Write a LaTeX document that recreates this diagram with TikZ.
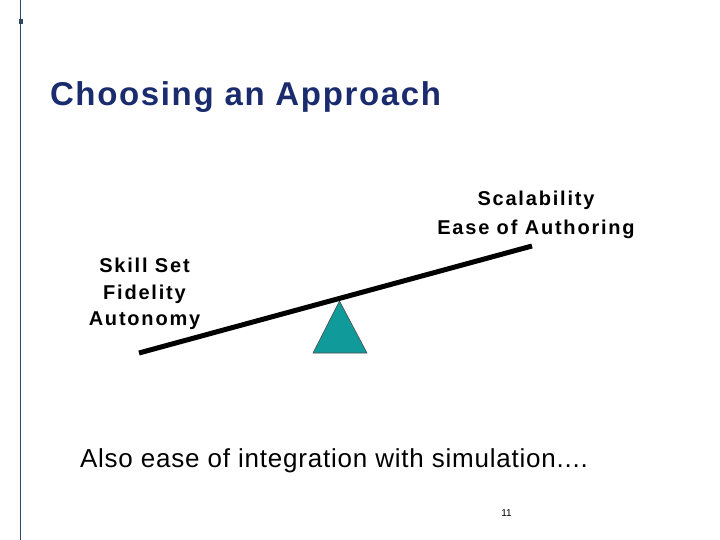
\documentclass[tikz,border=0pt]{standalone}
\usepackage{fontspec}
\setmainfont{Liberation Sans}
\newfontfamily\titlefont[LetterSpace=5]{Liberation Sans}
\newfontfamily\labelfont[LetterSpace=9]{Liberation Sans}
\newfontfamily\notefont[LetterSpace=3]{Liberation Sans}
\definecolor{titleblue}{RGB}{26,43,110}
\definecolor{pivotteal}{RGB}{16,154,154}
\definecolor{rulegray}{RGB}{47,72,96}
\begin{document}
\begin{tikzpicture}[x=1pt,y=-1pt,every node/.style={inner sep=0pt,outer sep=0pt,anchor=base},
  lbl/.style={font=\fontsize{20}{24}\labelfont\bfseries}]
\useasboundingbox (0,0) rectangle (720,540);
\draw[rulegray,line width=1.5pt] (20.5,0) -- (20.5,540);
\fill[rulegray] (18.5,19.5) rectangle (22.5,24);
\node[font=\fontsize{33}{40}\titlefont\bfseries,text=titleblue,anchor=base west] (title) at (50,105.5) {Choosing an Approach};
\node[lbl] (scal) at (536,205.5) {Scalability};
\node[lbl] (ease) at (536,234) {Ease of Authoring};
\node[lbl] (skill) at (144.5,272.5) {Skill Set};
\node[lbl] (fidel) at (144.5,299) {Fidelity};
\node[lbl] (auton) at (144.5,325) {Autonomy};
\coordinate (beamL) at (139,353);
\coordinate (beamR) at (532,246);
\filldraw[fill=pivotteal,draw=black!70,line width=0.6pt] (339.5,301) -- (313,353) -- (367,353) -- cycle;
\draw[line width=5pt] (beamL) -- (beamR);
\node[font=\fontsize{26}{31}\notefont,anchor=base west] (note) at (80,467) {Also ease of integration with simulation....};
\node[font=\fontsize{10}{12}\selectfont] (pagenum) at (506.5,516) {11};
\end{tikzpicture}
\end{document}
